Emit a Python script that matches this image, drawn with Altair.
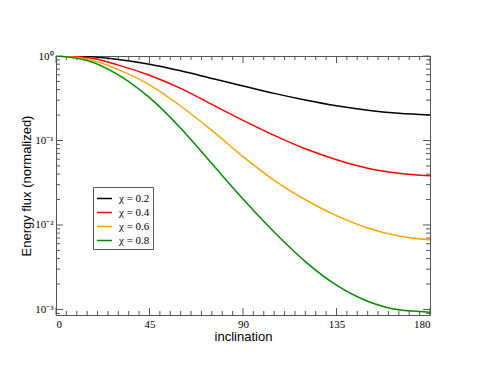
import altair as alt
import pandas as pd

# ---- data ----
angles = [0, 15, 30, 45, 60, 75, 90, 105, 120, 135, 150, 165, 180]
chi_labels = ["χ = 0.2", "χ = 0.4", "χ = 0.6", "χ = 0.8"]
flux_02 = [1.0, 0.984, 0.910, 0.80, 0.668, 0.543, 0.442, 0.361, 0.301, 0.257, 0.228, 0.210, 0.200]
flux_04 = [1.0, 0.959, 0.78, 0.592, 0.414, 0.267, 0.173, 0.115, 0.0798, 0.0592, 0.047, 0.0409, 0.0382]
flux_06 = [1.0, 0.92, 0.69, 0.456, 0.256, 0.1315, 0.0644, 0.0338, 0.0199, 0.0129, 0.0092, 0.0074, 0.00667]
flux_08 = [1.0, 0.885, 0.598, 0.321, 0.140, 0.0533, 0.0203, 0.00826, 0.00369, 0.00194, 0.00125, 0.00099, 0.00093]
colors = ["#000000", "#ff0000", "#ffa500", "#008b00"]

x_major = [0, 45, 90, 135, 180]
x_minor = [v for v in range(0, 181, 5) if v not in x_major]
y_major = [1, 0.1, 0.01, 0.001]
y_labels = ["10⁰", "10⁻¹", "10⁻²", "10⁻³"]
y_minor = [k * 10.0 ** d for d in (-4, -3, -2, -1) for k in range(2, 10)]
y_min, y_max = 0.00086, 1.0
y_minor = [v for v in y_minor if y_min <= v <= y_max]

rows = []
for lab, series in zip(chi_labels, [flux_02, flux_04, flux_06, flux_08]):
    for a, f in zip(angles, series):
        rows.append({"inclination": a, "flux": f, "chi": lab})
df = pd.DataFrame(rows)

W, H = 374, 259
FRAME = "#555555"
SERIF = "Liberation Serif, Times New Roman, serif"
SANS = "Liberation Sans, Arial, sans-serif"
xs = alt.Scale(domain=[0, 180], nice=False, zero=False)
ys = alt.Scale(type="log", domain=[y_min, y_max], nice=False)

label_expr = " : ".join(
    [f"abs(log(datum.value)/log(10) - ({i}*-1)) < 0.01 ? '{lab}'" for i, lab in enumerate(y_labels)]
) + " : ''"

lines = alt.Chart(df).mark_line(strokeWidth=1.5, interpolate="monotone", clip=True).encode(
    x=alt.X("inclination:Q", scale=xs,
            axis=alt.Axis(values=x_major, ticks=False, domain=False, grid=False,
                          labelFont=SERIF, labelFontSize=11, labelColor="#000",
                          labelPadding=3, title="inclination", titleFont=SANS,
                          titleFontSize=13, titleFontWeight="normal", titleColor="#000",
                          titlePadding=1)),
    y=alt.Y("flux:Q", scale=ys,
            axis=alt.Axis(values=y_major, labelExpr=label_expr, ticks=False, domain=False,
                          grid=False, labelFont=SERIF, labelFontSize=11,
                          labelColor="#000", labelPadding=3,
                          title="Energy flux (normalized)", titleFont=SANS,
                          titleFontSize=13, titleFontWeight="normal", titleColor="#000",
                          titlePadding=1)),
    color=alt.Color("chi:N", scale=alt.Scale(domain=chi_labels, range=colors),
                    legend=alt.Legend(title=None, orient="none", legendX=37, legendY=131,
                                      strokeColor=FRAME, fillColor="white", padding=3,
                                      symbolType="stroke", symbolSize=225,
                                      symbolStrokeWidth=1.5, labelFont=SERIF,
                                      labelFontSize=11, labelColor="#000", rowPadding=-2,
                                      labelOffset=6)),
)

xmaj = pd.DataFrame({"inclination": x_major})
xmin = pd.DataFrame({"inclination": x_minor})
ymaj = pd.DataFrame({"flux": y_major})
ymin = pd.DataFrame({"flux": y_minor})


def xticks(data, length):
    base = alt.Chart(data).mark_rule(color=FRAME, strokeWidth=1)
    bottom = base.encode(x=alt.X("inclination:Q", scale=xs),
                         y=alt.value(H), y2=alt.value(H - length))
    top = base.encode(x=alt.X("inclination:Q", scale=xs),
                      y=alt.value(0), y2=alt.value(length))
    return [bottom, top]


def yticks(data, length):
    base = alt.Chart(data).mark_rule(color=FRAME, strokeWidth=1)
    left = base.encode(y=alt.Y("flux:Q", scale=ys),
                       x=alt.value(0), x2=alt.value(length))
    right = base.encode(y=alt.Y("flux:Q", scale=ys),
                        x=alt.value(W), x2=alt.value(W - length))
    return [left, right]


layers = xticks(xmaj, 7) + xticks(xmin, 4) + yticks(ymaj, 7) + yticks(ymin, 4) + [lines]

chart = alt.layer(*layers).properties(
    width=W, height=H,
    padding={"left": 48, "top": 48, "right": 47, "bottom": 51},
    autosize=alt.AutoSizeParams(type="none"),
    background="white",
).configure_view(stroke=FRAME, strokeWidth=1)

chart.save("out.html", embed_options={"renderer": "svg", "actions": False})
